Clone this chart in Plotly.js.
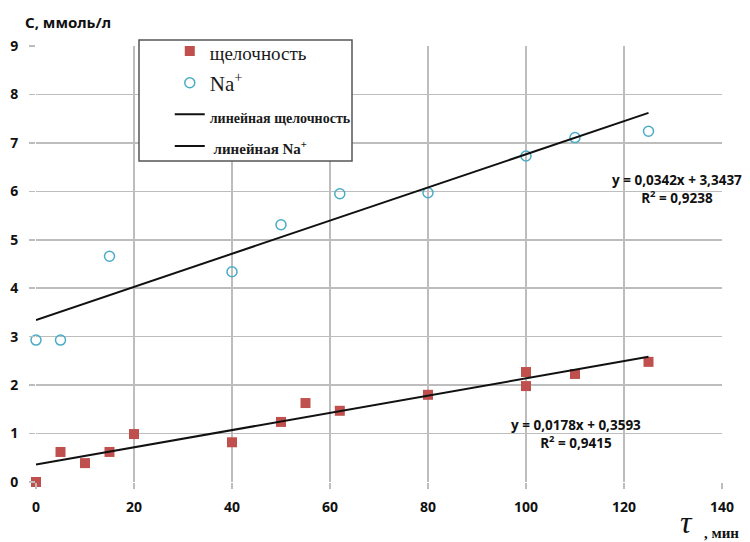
<!DOCTYPE html>
<html>
<head>
<meta charset="utf-8">
<script src="https://cdn.plot.ly/plotly-3.0.1.min.js"></script>
<style>html,body{margin:0;padding:0;background:#fff;}#chart{width:750px;height:542px;}</style>
</head>
<body>
<div id="chart"></div>
<script>
// Data
var alkX = [0, 5, 10, 15, 20, 40, 50, 55, 62, 80, 100, 100, 110, 125];
var alkY = [0, 0.62, 0.39, 0.62, 0.99, 0.82, 1.24, 1.63, 1.47, 1.80, 2.27, 1.98, 2.23, 2.48];
var naX = [0, 5, 15, 40, 50, 62, 80, 100, 110, 125];
var naY = [2.93, 2.93, 4.66, 4.34, 5.31, 5.95, 5.97, 6.73, 7.11, 7.24];
// Trendline coefficients (from the chart's equations)
var alkSlope = 0.0178, alkIntercept = 0.3593, alkR2 = 0.9415;
var naSlope = 0.0342, naIntercept = 3.3437, naR2 = 0.9238;
var trendRange = [0, 125];
var seriesNames = ["щелочность", "Na<sup>+</sup>", "линейная щелочность", "линейная Na<sup>+</sup>"];

function fmt(v) { return String(v).replace('.', ','); }
function lineY(a, b) { return trendRange.map(function (x) { return a * x + b; }); }

var traces = [
  {
    x: alkX, y: alkY, type: 'scatter', mode: 'markers', cliponaxis: false,
    name: '<span style="font-size:19px">' + seriesNames[0] + '</span>',
    marker: { symbol: 'square', size: 10, color: '#c0504d' }
  },
  {
    x: naX, y: naY, type: 'scatter', mode: 'markers', cliponaxis: false,
    name: '<span style="font-size:21px">' + seriesNames[1] + '</span>',
    marker: { symbol: 'circle-open', size: 10, color: '#4bacc6', line: { width: 1.5, color: '#4bacc6' } }
  },
  {
    x: trendRange, y: lineY(alkSlope, alkIntercept), type: 'scatter', mode: 'lines',
    name: '<span style="font-size:14px"><b>' + seriesNames[2] + '</b></span>',
    line: { color: '#111', width: 2 }
  },
  {
    x: trendRange, y: lineY(naSlope, naIntercept), type: 'scatter', mode: 'lines',
    name: '<span style="font-size:15px"><b> ' + seriesNames[3] + '</b></span>',
    line: { color: '#111', width: 2 }
  }
];

var tickFont = { family: 'Open Sans, sans-serif', size: 14, color: '#111', weight: 'bold' };
var eqFont = { family: 'Open Sans, sans-serif', size: 13.5, color: '#111', weight: 'bold' };

var layout = {
  width: 750, height: 542,
  margin: { l: 36, r: 28, t: 46, b: 60 },
  paper_bgcolor: '#fff', plot_bgcolor: '#fff',
  showlegend: true,
  legend: {
    x: 0.195, y: 1.036, xanchor: 'left', yanchor: 'top',
    bgcolor: 'rgba(0,0,0,0)', borderwidth: 0,
    font: { family: 'Liberation Serif, serif', size: 22, color: '#1a1a1a' },
    tracegroupgap: 0
  },
  xaxis: {
    range: [0, 140], dtick: 20, tick0: 0,
    showgrid: true, gridcolor: '#bdbdbd', gridwidth: 1.5,
    zeroline: false, showline: false,
    ticks: 'outside', ticklen: 6, tickcolor: '#bdbdbd', tickwidth: 1.5,
    tickfont: tickFont, ticklabelstandoff: 6, fixedrange: true
  },
  yaxis: {
    range: [0, 9], dtick: 1, tick0: 0,
    showgrid: true, gridcolor: '#bdbdbd', gridwidth: 1.5,
    zeroline: false, showline: false,
    ticks: 'outside', ticklen: 6, tickcolor: '#bdbdbd', tickwidth: 1.5,
    tickfont: tickFont, ticklabelstandoff: 8, fixedrange: true
  },
  shapes: [
    { type: 'rect', xref: 'paper', yref: 'paper', layer: 'above',
      x0: (139 - 36) / 686, x1: (352 - 36) / 686, y0: (482 - 161) / 436, y1: (482 - 40) / 436,
      fillcolor: '#ffffff', line: { color: '#555', width: 1.5 } }
  ],
  annotations: [
    { xref: 'paper', yref: 'paper', x: (677 - 36) / 686, y: (482 - 188.5) / 436,
      text: 'y = ' + fmt(naSlope) + 'x + ' + fmt(naIntercept) + '<br>R<sup>2</sup> = ' + fmt(naR2),
      showarrow: false, align: 'center', xanchor: 'center', yanchor: 'middle', font: eqFont },
    { xref: 'paper', yref: 'paper', x: (576 - 36) / 686, y: (482 - 433.5) / 436,
      text: 'y = ' + fmt(alkSlope) + 'x + ' + fmt(alkIntercept) + '<br>R<sup>2</sup> = ' + fmt(alkR2),
      showarrow: false, align: 'center', xanchor: 'center', yanchor: 'middle', font: eqFont },
    { xref: 'paper', yref: 'paper', x: (23 - 36) / 686, y: (482 - 22) / 436,
      text: 'С, ммоль/л', showarrow: false, xanchor: 'left', yanchor: 'middle',
      font: { family: 'Noto Sans, sans-serif', size: 15, color: '#111', weight: 'bold' } },
    { xref: 'paper', yref: 'paper', x: (686 - 36) / 686, y: (482 - 522) / 436,
      text: '<i>τ</i>', showarrow: false, xanchor: 'center', yanchor: 'middle',
      font: { family: 'Liberation Serif, serif', size: 32, color: '#111' } },
    { xref: 'paper', yref: 'paper', x: (702 - 36) / 686, y: (482 - 533) / 436,
      text: '<b>, мин</b>', showarrow: false, xanchor: 'left', yanchor: 'middle',
      font: { family: 'Liberation Serif, serif', size: 15, color: '#111' } }
  ]
};

Plotly.newPlot('chart', traces, layout, { staticPlot: true, displayModeBar: false });
</script>
</body>
</html>
